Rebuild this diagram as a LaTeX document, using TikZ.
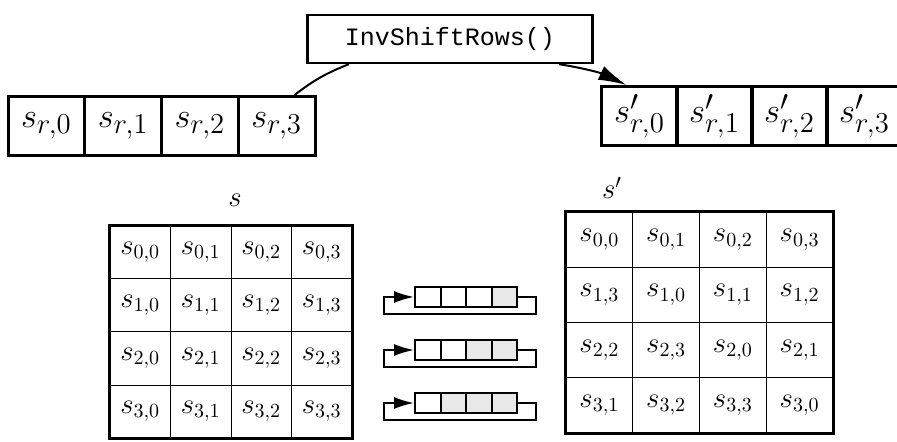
\documentclass[tikz,border=0pt]{standalone}
\usepackage{fontspec}
\setmonofont{Liberation Mono}
\usetikzlibrary{arrows.meta}

\begin{document}
\begin{tikzpicture}[x=0.5pt,y=-0.5pt,
rowcell/.style={draw,line width=1.5pt,minimum width=38.4pt,minimum height=29.5pt,inner sep=0pt,font=\fontsize{19}{22}\selectfont},
lcell/.style={draw,line width=0.5pt,minimum width=30.25pt,minimum height=26.5pt,inner sep=0pt,font=\Large},
rcell/.style={draw,line width=0.5pt,minimum width=33.4pt,minimum height=27.6pt,inner sep=0pt,font=\Large},
qcell/.style={draw,line width=1pt,minimum width=12.75pt,minimum height=10pt,inner sep=0pt},
shaded/.style={fill=gray!18}]
\useasboundingbox(0,0)rectangle(897,442);
\clip(0,0)rectangle(897,442);
\node[draw,line width=1.2pt,minimum width=142.5pt,minimum height=24pt,font=\ttfamily\fontsize{12.5}{15}\selectfont](inv)at(450,39){InvShiftRows()};
\foreach \c in {0,...,3}{
\node[rowcell](l\c)at({46.4+76.75*\c},126){$s_{r,\c}$};
\node[rowcell](r\c)at({639.5+75*\c},116){$s'_{r,\c}$};
}
\draw[line width=1pt](l3.60)to[bend left=8](inv.194);
\draw[line width=1pt,-{Latex[length=14pt,width=7.5pt]}](inv.347)to[bend left=8](r0.113);
\node[font=\Large](slab)at(235,200){$s$};
\node[font=\Large](sdash)at(612,188){$s'$};
\foreach \r in {0,...,3}
\foreach \c in {0,...,3}{
\pgfmathtruncatemacro\k{mod(\c-\r+4,4)}
\node[lcell](m\r\c)at({140.25+60.5*\c},{252.5+53*\r}){$s_{\r,\c}$};
\node[rcell](n\r\c)at({599.4+66.75*\c},{239.6+55.25*\r}){$s_{\r,\k}$};
}
\draw[line width=1.5pt](m00.north west)rectangle(m33.south east);
\draw[line width=1.5pt](n00.north west)rectangle(n33.south east);
\foreach \r/\y in {1/297,2/350,3/403}{
\foreach \c in {0,...,3}{
\pgfmathtruncatemacro\s{\c+\r>3}
\ifnum\s=1
\node[qcell,shaded](q\r\c)at({427.75+25.5*\c},\y){};
\else
\node[qcell](q\r\c)at({427.75+25.5*\c},\y){};
\fi
}
\draw[line width=0.9pt,-{Latex[length=10pt,width=6pt]}](q\r3.east)--++(18,0)--++(0,17)-|([xshift=-15pt]q\r0.west)--(q\r0.west);
}
\end{tikzpicture}
\end{document}
